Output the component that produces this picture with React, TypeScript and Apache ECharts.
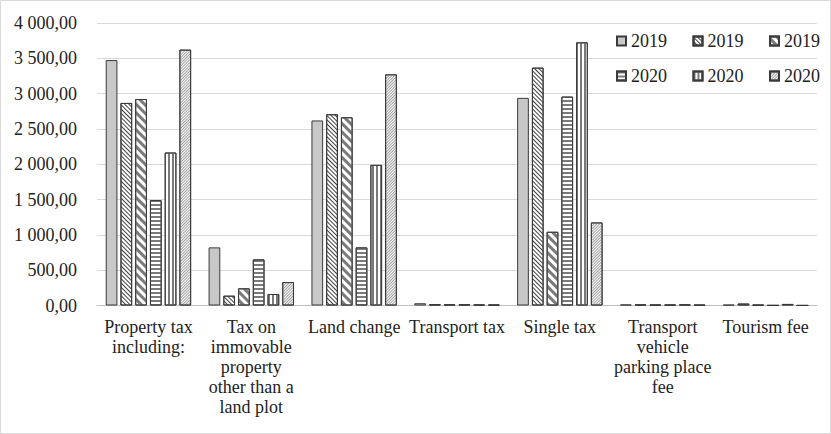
import React, { useEffect, useRef } from "react";
import * as echarts from "echarts";

const categories = [
  "Property tax including:",
  "Tax on immovable property other than a land plot",
  "Land change",
  "Transport tax",
  "Single tax",
  "Transport vehicle parking place fee",
  "Tourism fee",
];
const categoryLines: string[][] = [
  ["Property tax", "including:"],
  ["Tax on", "immovable", "property", "other than a", "land plot"],
  ["Land change"],
  ["Transport tax"],
  ["Single tax"],
  ["Transport", "vehicle", "parking place", "fee"],
  ["Tourism fee"],
];

const seriesYears = ["2019", "2019", "2019", "2020", "2020", "2020"];
const values2019a = [3475, 823, 2620, 32, 2940, 15, 12];
const values2019b = [2868, 139, 2708, 18, 3368, 15, 28];
const values2019c = [2924, 243, 2665, 16, 1044, 12, 10];
const values2020a = [1492, 653, 823, 18, 2958, 12, 3];
const values2020b = [2166, 163, 1991, 14, 3726, 16, 22];
const values2020c = [3623, 332, 3273, 12, 1176, 10, 2];
const seriesValues = [values2019a, values2019b, values2019c, values2020a, values2020b, values2020c];

const yMin = 0;
const yMax = 4000;
const yInterval = 500;

const FONT = "'Liberation Serif', 'Times New Roman', serif";
const TEXT = "#222222";

const fmtNumber = (v: number) => {
  const [i, d] = v.toFixed(2).split(".");
  const grouped = i.replace(/\B(?=(\d{3})+(?!\d))/g, " ");
  return grouped + "," + d;
};

const styles: any[] = [
  { color: "#c8c8c8" },
  {
    color: "#ffffff",
    decal: { symbol: "rect", symbolSize: 1, dashArrayX: [1, 0], dashArrayY: [1, 2], rotation: Math.PI / 4, color: "#404040" },
  },
  {
    color: "#ffffff",
    decal: { symbol: "rect", symbolSize: 1, dashArrayX: [1, 0], dashArrayY: [3, 3], rotation: Math.PI / 4, color: "#7a7a7a" },
  },
  {
    color: "#ffffff",
    decal: { symbol: "rect", symbolSize: 1, dashArrayX: [1, 0], dashArrayY: [2, 2], rotation: 0, color: "#7a7a7a" },
  },
  {
    color: "#ffffff",
    decal: { symbol: "rect", symbolSize: 1, dashArrayX: [2, 2], dashArrayY: [1, 0], rotation: 0, color: "#7a7a7a" },
  },
  {
    color: "#ffffff",
    decal: { symbol: "rect", symbolSize: 1, dashArrayX: [1, 0], dashArrayY: [1, 1], rotation: -Math.PI / 4, color: "#a0a0a0" },
  },
];

const makeLegend = (data: string[], top: number) => ({
  orient: "horizontal",
  left: 611,
  top,
  padding: 5,
  itemWidth: 9,
  itemHeight: 9,
  itemGap: 25.5,
  icon: "rect",
  data,
  formatter: (n: string) => n.split(" ")[0],
  textStyle: { fontFamily: FONT, fontSize: 18, color: TEXT, fontWeight: "normal" },
});

export default function App() {
  const ref = useRef<HTMLDivElement>(null);
  useEffect(() => {
    if (!ref.current) return;
    const chart = echarts.init(ref.current, null, { renderer: "svg" });
    const names = seriesYears.map((y, i) => `${y} #${i + 1}`);
    chart.setOption({
      animation: false,
      backgroundColor: "#ffffff",
      textStyle: { fontFamily: FONT },
      grid: { left: 97, right: 14, top: 23, bottom: 128.5, containLabel: false },
      legend: [makeLegend(names.slice(0, 3), 27), makeLegend(names.slice(3, 6), 62)],
      xAxis: {
        type: "category",
        data: categories,
        axisLine: { show: true, lineStyle: { color: "#bfbfbf", width: 1 } },
        axisTick: { show: false },
        axisLabel: {
          interval: 0,
          margin: 11,
          fontFamily: FONT,
          fontSize: 18,
          lineHeight: 20,
          color: TEXT,
          align: "center",
          formatter: (v: string) => {
            const idx = categories.indexOf(v);
            return idx >= 0 ? categoryLines[idx].join("\n") : v;
          },
        },
      },
      yAxis: {
        type: "value",
        min: yMin,
        max: yMax,
        interval: yInterval,
        axisLine: { show: false },
        axisTick: { show: false },
        splitLine: { show: true, lineStyle: { color: "#d9d9d9", width: 1 } },
        axisLabel: {
          margin: 20,
          fontFamily: FONT,
          fontSize: 18,
          color: TEXT,
          formatter: (v: number) => fmtNumber(v),
        },
      },
      series: seriesValues.map((vals, i) => ({
        name: names[i],
        type: "bar",
        data: vals,
        barWidth: 11.7,
        barGap: "26%",
        itemStyle: { ...styles[i], borderColor: "#3a3a3a", borderWidth: 1 },
      })),
      graphic: [
        {
          type: "rect",
          silent: true,
          z: -10,
          shape: { x: 0.5, y: 0.5, width: 830, height: 433 },
          style: { fill: "none", stroke: "#d9d9d9", lineWidth: 1 },
        },
      ],
    });
    return () => chart.dispose();
  }, []);
  return (
    <div
      ref={ref}
      style={{ position: "absolute", left: 0, top: 0, width: 831, height: 434 }}
    />
  );
}
